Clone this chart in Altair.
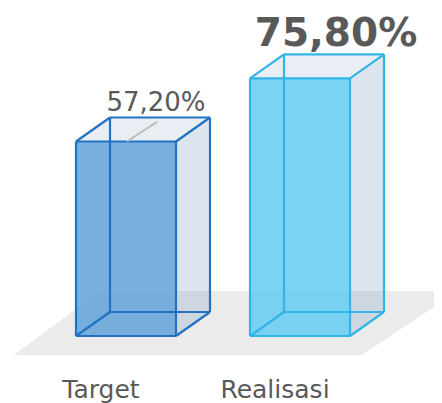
import altair as alt
import pandas as pd

# ---- data ----
categories = ["Target", "Realisasi"]
values = [57.2, 75.8]
value_labels = ["57,20%", "75,80%"]

# ---- styles / layout ----
face_colors = ["#5b9fd8", "#5fcbf3"]
edge_colors = ["#2172c2", "#33b4e8"]
TEXT = "#595959"
W, H = 426, 395
PX = 3.4            # pixels per percentage point
BASE = 328          # pixel row of the zero line
Y_DOM = [-(H - BASE) / PX, BASE / PX]
X_DOM = [0, W]
X0, GAP, BAR_W = 68, 174, 100
DX, DY = 34, 24 / PX

xs = alt.Scale(domain=X_DOM, nice=False, zero=False)
ys = alt.Scale(domain=Y_DOM, nice=False, zero=False)
fill_scale = alt.Scale(domain=categories, range=face_colors)
edge_scale = alt.Scale(domain=categories, range=edge_colors)

front, side, top, edges = [], [], [], []
for i, (c, v) in enumerate(zip(categories, values)):
    xl = X0 + i * GAP
    xr = xl + BAR_W
    front.append(dict(cat=c, x=xl, x2=xr, y=v, y2=0))
    side += [dict(cat=c, x=xr, y=v, y2=0), dict(cat=c, x=xr + DX, y=v + DY, y2=DY)]
    top += [dict(cat=c, y=v, x=xl, x2=xr), dict(cat=c, y=v + DY, x=xl + DX, x2=xr + DX)]
    segs = [
        (xl, 0, xr, 0), (xl, v, xr, v), (xl, 0, xl, v), (xr, 0, xr, v),
        (xl + DX, DY, xr + DX, DY), (xl + DX, v + DY, xr + DX, v + DY),
        (xl + DX, DY, xl + DX, v + DY), (xr + DX, DY, xr + DX, v + DY),
        (xl, 0, xl + DX, DY), (xr, 0, xr + DX, DY),
        (xl, v, xl + DX, v + DY), (xr, v, xr + DX, v + DY),
    ]
    for (a, b, cc, d) in segs:
        edges.append(dict(cat=c, x=a, y=b, x2=cc, y2=d))

front_df = pd.DataFrame(front)
side_df = pd.DataFrame(side)
top_df = pd.DataFrame(top)
edge_df = pd.DataFrame(edges)

floor_df = pd.DataFrame([
    dict(y=(BASE - 283) / PX, x=92, x2=450),
    dict(y=(BASE - 347) / PX, x=6, x2=354),
])

floor = alt.Chart(floor_df).mark_area(orient="horizontal", color="#ebebeb").encode(
    y=alt.Y("y:Q", scale=ys, axis=None),
    x=alt.X("x:Q", scale=xs, axis=None),
    x2="x2:Q",
)

side_l = alt.Chart(side_df).mark_area(color="#91acc6", opacity=0.32).encode(
    x=alt.X("x:Q", scale=xs, axis=None),
    y=alt.Y("y:Q", scale=ys, axis=None),
    y2="y2:Q",
    detail="cat:N",
)

top_l = alt.Chart(top_df).mark_area(orient="horizontal", color="#91acc6", opacity=0.2).encode(
    y=alt.Y("y:Q", scale=ys, axis=None),
    x=alt.X("x:Q", scale=xs, axis=None),
    x2="x2:Q",
    detail="cat:N",
)

front_l = alt.Chart(front_df).mark_rect(opacity=0.82).encode(
    x=alt.X("x:Q", scale=xs, axis=None),
    x2="x2:Q",
    y=alt.Y("y:Q", scale=ys, axis=None),
    y2="y2:Q",
    fill=alt.Fill("cat:N", scale=fill_scale, legend=None),
)

edge_l = alt.Chart(edge_df).mark_rule(strokeWidth=2.2).encode(
    x=alt.X("x:Q", scale=xs, axis=None),
    x2="x2:Q",
    y=alt.Y("y:Q", scale=ys, axis=None),
    y2="y2:Q",
    stroke=alt.Stroke("cat:N", scale=edge_scale, legend=None),
)

lab_df = pd.DataFrame(dict(
    cat=categories,
    v=values,
    lab=value_labels,
    xc=[X0 + i * GAP + BAR_W / 2 for i in range(len(categories))],
))
lab_df["ytop"] = lab_df["v"] + DY
lab_df["xb"] = lab_df["xc"] + DX
lab_df["lx1"] = lab_df["xc"] + 1
lab_df["lx2"] = lab_df["xc"] + 31
lab_df["ly2"] = lab_df["v"] + 5.8

leader = alt.Chart(lab_df[lab_df.cat == categories[0]]).mark_rule(
    color="#bdbdbd", strokeWidth=2
).encode(
    x=alt.X("lx1:Q", scale=xs, axis=None), x2="lx2:Q",
    y=alt.Y("v:Q", scale=ys, axis=None), y2="ly2:Q",
)

lab1 = alt.Chart(lab_df[lab_df.cat == categories[0]]).mark_text(
    font="DejaVu Sans", fontSize=26, color=TEXT, baseline="alphabetic", dy=-7, dx=-4
).encode(
    x=alt.X("xb:Q", scale=xs, axis=None),
    y=alt.Y("ytop:Q", scale=ys, axis=None),
    text="lab:N",
)

lab2 = alt.Chart(lab_df[lab_df.cat == categories[1]]).mark_text(
    font="DejaVu Sans", fontSize=39, fontWeight="bold", color=TEXT, baseline="alphabetic", dy=-8, dx=2
).encode(
    x=alt.X("xb:Q", scale=xs, axis=None),
    y=alt.Y("ytop:Q", scale=ys, axis=None),
    text="lab:N",
)

cat_l = alt.Chart(lab_df).mark_text(
    font="DejaVu Sans", fontSize=25, color=TEXT, baseline="alphabetic", dx=-25
).encode(
    x=alt.X("xc:Q", scale=xs, axis=None),
    y=alt.value(390),
    text="cat:N",
)

chart = alt.layer(
    floor, side_l, top_l, front_l, edge_l, leader, lab1, lab2, cat_l
).properties(
    width=W, height=H, padding=0,
    autosize=alt.AutoSizeParams(type="none"),
).configure_view(stroke=None)

chart.save("out.html", embed_options={"renderer": "svg", "actions": False})
